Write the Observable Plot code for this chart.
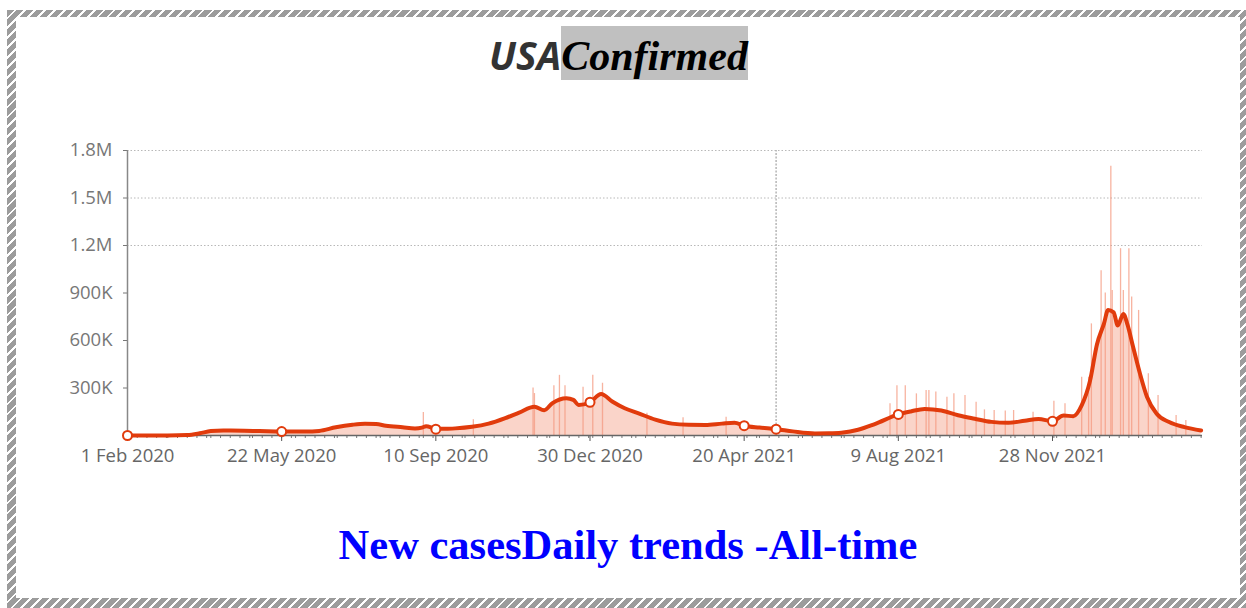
<!DOCTYPE html>
<html><head><meta charset="utf-8">
<script src="https://cdn.jsdelivr.net/npm/d3@7"></script>
<script src="https://cdn.jsdelivr.net/npm/@observablehq/plot@0.6"></script>
<style>
html,body{margin:0;padding:0;width:1246px;height:608px;overflow:hidden;background:#fff;position:relative;}
#frame{position:absolute;left:7px;top:10px;width:1242px;height:598px;background:repeating-linear-gradient(135deg,#9c9c9c 0 5px,#ffffff 5px 7px);}
#inner{position:absolute;left:9px;top:7px;right:9px;bottom:10px;background:#fff;}
#title{position:absolute;left:0;top:26px;width:1237px;display:flex;justify-content:center;align-items:baseline;}
#t1{font-family:"Open Sans",sans-serif;font-weight:700;font-style:italic;font-size:39px;color:#333;line-height:46px;}
#t2{font-family:"Liberation Serif","Times New Roman",serif;font-weight:700;font-style:italic;font-size:42px;color:#000;background:#c0c0c0;display:inline-block;line-height:46px;padding:7px 0 1px 0;}
#caption{position:absolute;left:0;width:1256px;top:520px;text-align:center;font-family:"Liberation Serif","Times New Roman",serif;font-weight:700;font-size:42.5px;color:#0000ff;line-height:50px;}
#chart{position:absolute;left:0;top:120px;}
</style></head>
<body>
<div id="frame"><div id="inner"></div></div>
<div id="title"><span id="t1">USA</span><span id="t2">Confirmed</span></div>
<div id="chart"></div>
<div id="caption">New casesDaily trends -All-time</div>
<script>
// 7-day average line (cases, thousands)
const lineDates = ["2020-02-01","2020-03-01","2020-03-15","2020-03-24","2020-04-01","2020-04-10","2020-04-25","2020-05-06","2020-05-22","2020-06-08","2020-06-18","2020-06-30","2020-07-12","2020-07-21","2020-07-29","2020-08-05","2020-08-17","2020-08-26","2020-08-31","2020-09-03","2020-09-07","2020-09-10","2020-09-14","2020-09-24","2020-10-06","2020-10-18","2020-10-30","2020-11-09","2020-11-20","2020-11-27","2020-12-03","2020-12-13","2020-12-18","2020-12-22","2020-12-30","2021-01-07","2021-01-15","2021-01-24","2021-02-03","2021-02-15","2021-02-27","2021-03-11","2021-03-23","2021-04-04","2021-04-13","2021-04-20","2021-05-01","2021-05-13","2021-05-25","2021-06-10","2021-06-20","2021-06-29","2021-07-11","2021-07-23","2021-08-09","2021-08-18","2021-08-28","2021-09-09","2021-09-21","2021-10-03","2021-10-15","2021-10-27","2021-11-08","2021-11-18","2021-11-28","2021-12-06","2021-12-13","2021-12-19","2021-12-25","2021-12-30","2022-01-04","2022-01-07","2022-01-11","2022-01-14","2022-01-18","2022-01-21","2022-01-25","2022-01-30","2022-02-04","2022-02-11","2022-02-20","2022-03-03","2022-03-15"];
const lineValues = [0,0.5,3,14,28,31,30,28,25,25,29,52,68,74,72,62,52,45,50,58,50,40,42,45,55,75,110,145,182,160,205,236,225,192,210,262,215,172,140,100,75,68,67,75,80,62,50,40,26,13,14,18,36,72,133,152,168,158,128,106,86,80,93,104,90,126,122,190,345,575,705,792,778,695,768,700,560,390,245,137,85,53,32];

// daily bars that stand out above the average (cases, thousands)
const spikeDates = ["2020-09-01","2020-10-07","2020-11-19","2020-11-20","2020-12-04","2020-12-08","2020-12-12","2020-12-25","2021-01-01","2021-01-08","2021-02-09","2021-03-07","2021-04-07","2021-08-03","2021-08-08","2021-08-14","2021-08-22","2021-08-29","2021-08-31","2021-09-05","2021-09-13","2021-09-18","2021-09-26","2021-10-04","2021-10-10","2021-10-17","2021-10-25","2021-10-31","2021-11-14","2021-11-29","2021-12-07","2021-12-19","2021-12-24","2021-12-26","2022-01-02","2022-01-05","2022-01-09","2022-01-10","2022-01-16","2022-01-18","2022-01-22","2022-01-24","2022-01-29","2022-02-05","2022-02-12","2022-02-25","2022-03-04"];
const spikeValues = [145,100,300,265,315,380,315,305,380,330,140,112,116,200,315,315,263,284,284,274,242,263,253,210,162,158,154,158,147,217,200,368,368,705,1040,900,1700,916,1180,916,1180,874,790,390,253,126,95];

// highlighted points on the line (cases, thousands)
const markerDates = ["2020-02-01","2020-05-22","2020-09-10","2020-12-30","2021-04-20","2021-05-13","2021-08-09","2021-11-28"];
const markerValues = [0,25,40,210,62,40,133,90];

const pointerDate = ["2021-05-13"];

const xTickDates = ["2020-02-01","2020-05-22","2020-09-10","2020-12-30","2021-04-20","2021-08-09","2021-11-28"];
const xTickLabels = ["1 Feb 2020","22 May 2020","10 Sep 2020","30 Dec 2020","20 Apr 2021","9 Aug 2021","28 Nov 2021"];
const yTicks = [300000,600000,900000,1200000,1500000,1800000];
const yTickLabels = ["300K","600K","900K","1.2M","1.5M","1.8M"];
const gridValues = [1200000,1500000,1800000];
const xDomain = ["2020-02-01","2022-03-16"];

const P = d3.utcParse("%Y-%m-%d");
const line = lineDates.map((d,i)=>({date:P(d), v:lineValues[i]*1000}));
const spikes = spikeDates.map((d,i)=>({date:P(d), v:spikeValues[i]*1000}));
const markers = markerDates.map((d,i)=>({date:P(d), v:markerValues[i]*1000}));
const xt = xTickDates.map(P);
const labelOf = new Map(xTickDates.map((d,i)=>[+P(d), xTickLabels[i]]));
const yLabelOf = new Map(yTicks.map((d,i)=>[d, yTickLabels[i]]));
const minor = d3.utcDay.every(7).range(P(xDomain[0]), P(xDomain[1]));
const RED = "#e13b0c";

const chart = Plot.plot({
  width: 1246, height: 360,
  marginLeft: 127, marginRight: 44, marginTop: 30, marginBottom: 45,
  style: {fontFamily: "'Open Sans', sans-serif", fontSize: "18px", background: "transparent"},
  x: {type: "utc", domain: xDomain.map(P), label: null},
  y: {domain: [0, 1800000], label: null},
  marks: [
    Plot.gridY(gridValues, {stroke: "#b8b8b8", strokeOpacity: 1, strokeDasharray: "1.5,2"}),
    Plot.areaY(line, {x: "date", y: "v", fill: "#f6a993", fillOpacity: 0.5, curve: "monotone-x"}),
    Plot.ruleX(spikes, {x: "date", y1: 0, y2: "v", stroke: "#f49a80", strokeWidth: 1.3, strokeOpacity: 0.75}),
    Plot.ruleX(pointerDate.map(P), {y1: 0, y2: 1800000, stroke: "#b5b5b5", strokeWidth: 1.5, strokeDasharray: "2,1.5"}),
    Plot.axisX(minor, {tickSize: 3, tickFormat: () => "", stroke: "#777", label: null}),
    Plot.axisX(xt, {tickSize: 6, tickPadding: 7, tickFormat: d => labelOf.get(+d), fill: "#666", stroke: "#555", fontSize: 18.5, label: null}),
    Plot.axisY(yTicks, {tickSize: 4, tickPadding: 11, tickFormat: d => yLabelOf.get(d), fill: "#777", stroke: "#777", fontSize: 18.5, label: null}),
    Plot.ruleY([0], {stroke: "#666", strokeWidth: 1.5}),
    Plot.ruleX([P(xDomain[0])], {y1: 0, y2: 1800000, stroke: "#888", strokeWidth: 1.5}),
    Plot.lineY(line, {x: "date", y: "v", stroke: RED, strokeWidth: 4, curve: "monotone-x"}),
    Plot.dot(markers, {x: "date", y: "v", r: 4.5, fill: "white", stroke: RED, strokeWidth: 2})
  ]
});
document.getElementById("chart").appendChild(chart);
</script>
</body></html>
